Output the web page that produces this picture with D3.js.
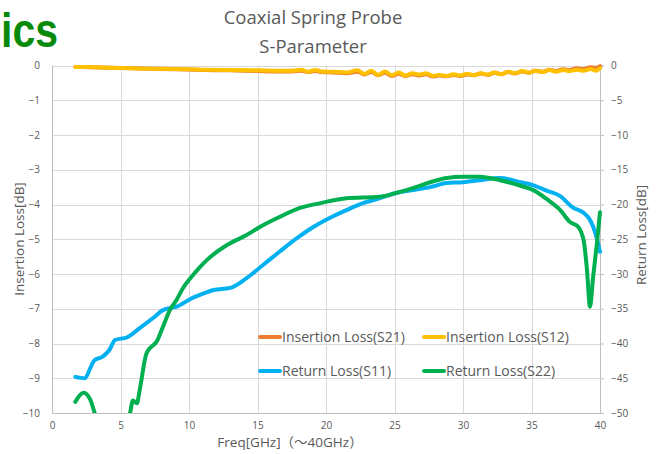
<!DOCTYPE html>
<html>
<head>
<meta charset="utf-8">
<script src="https://cdn.jsdelivr.net/npm/d3@7"></script>
<style>
  html, body { margin: 0; padding: 0; background: #fff; }
  svg { display: block; }
  text { font-family: "Open Sans", "Noto Sans", "Noto Sans CJK JP", sans-serif; fill: #595959; }
</style>
</head>
<body>
<svg id="chart" width="658" height="454"></svg>
<script>
// ---- Data ----
const xTicks = [0, 5, 10, 15, 20, 25, 30, 35, 40];
const leftTicks = [0, -1, -2, -3, -4, -5, -6, -7, -8, -9, -10];
const rightTicks = [0, -5, -10, -15, -20, -25, -30, -35, -40, -45, -50];

// Insertion loss (left axis, dB)
const ilFreq = [1.7, 3, 5, 7, 9, 11, 13, 15, 16.5, 17.5, 18.2, 18.7, 19.2, 19.7, 20.5, 21.5,
  22.3, 22.8, 23.3, 23.8, 24.3, 24.8, 25.3, 25.8, 26.3, 26.8,
  27.3, 27.8, 28.3, 28.8, 29.3, 29.8, 30.3, 30.8, 31.3, 31.8,
  32.3, 32.8, 33.3, 33.8, 34.3, 34.8, 35.3, 35.8, 36.3, 36.8,
  37.3, 37.8, 38.3, 38.8, 39.3, 39.7, 40];
const s21Values = [-0.04, -0.05, -0.07, -0.09, -0.11, -0.13, -0.14, -0.16, -0.17, -0.17, -0.15, -0.19, -0.16, -0.19, -0.20, -0.22,
  -0.18, -0.26, -0.19, -0.28, -0.21, -0.30, -0.24, -0.30, -0.25, -0.29,
  -0.25, -0.32, -0.29, -0.31, -0.27, -0.30, -0.26, -0.28, -0.23, -0.27,
  -0.21, -0.25, -0.19, -0.23, -0.17, -0.21, -0.15, -0.18, -0.12, -0.16,
  -0.11, -0.13, -0.08, -0.10, -0.05, -0.07, -0.02];
const s12Values = [-0.04, -0.05, -0.07, -0.09, -0.10, -0.12, -0.13, -0.14, -0.15, -0.15, -0.12, -0.18, -0.13, -0.17, -0.18, -0.20,
  -0.14, -0.24, -0.15, -0.27, -0.17, -0.28, -0.20, -0.29, -0.22, -0.26,
  -0.22, -0.30, -0.27, -0.30, -0.25, -0.29, -0.24, -0.28, -0.22, -0.26,
  -0.20, -0.25, -0.18, -0.22, -0.16, -0.20, -0.15, -0.19, -0.13, -0.18,
  -0.13, -0.16, -0.12, -0.15, -0.10, -0.15, -0.08];

// Return loss (right axis, dB)
const s11Freq = [1.7, 2.4, 2.8, 3.1, 3.7, 4.2, 4.6, 5.5, 6.4, 7.4, 8.1, 9.1, 10.3, 10.8, 11.8, 13.0,
  14.2, 15.4, 16.6, 17.9, 19.1, 20.3, 21.5, 22.7, 23.9, 25.2, 26.4, 27.6, 28.8, 30.0,
  31.2, 32.7, 34.2, 35.1, 36.1, 37.1, 38.0, 38.8, 39.2, 39.5, 39.8, 40];
const s11Values = [-44.8, -45.0, -43.5, -42.4, -41.9, -40.9, -39.5, -39.1, -37.8, -36.3, -35.2, -34.7, -33.4, -33.0, -32.3, -32.0,
  -30.6, -28.7, -26.8, -24.8, -23.2, -21.9, -20.8, -19.8, -19.1, -18.3, -17.9, -17.5, -16.9, -16.8,
  -16.5, -16.2, -16.8, -17.2, -18.0, -18.8, -20.4, -21.2, -22.0, -23.2, -25.1, -26.8];

const s22Freq = [1.7, 2.3, 2.8, 3.1, 3.5, 4.2, 5.0, 5.5, 5.7, 5.9, 6.2, 6.4, 6.9, 7.7, 8.1, 8.6,
  9.1, 9.6, 10.1, 10.8, 11.3, 12.8, 14.2, 15.2, 16.6, 18.1, 19.6, 21.5, 23.9, 25.2,
  26.4, 27.6, 28.8, 30.0, 31.2, 32.7, 34.2, 35.1, 36.1, 37.1, 37.8, 38.4, 38.8, 39.05, 39.27, 39.5, 39.8, 40];
const s22Values = [-48.4, -47.1, -48.1, -49.9, -52.0, -55.0, -54.0, -51.5, -50.0, -48.2, -48.6, -46.7, -41.4, -39.5, -37.6, -35.2,
  -33.7, -31.9, -30.6, -29.0, -28.0, -25.8, -24.4, -23.2, -21.8, -20.5, -19.8, -19.1, -18.9, -18.3,
  -17.6, -16.8, -16.2, -16.0, -16.0, -16.5, -17.3, -17.9, -19.2, -20.8, -22.5, -23.2, -25.1, -29.4, -34.7, -30.4, -25.1, -21.1];

const legendLabels = ["Insertion Loss(S21)", "Insertion Loss(S12)", "Return Loss(S11)", "Return Loss(S22)"];
const seriesColors = ["#ED7D31", "#FFC000", "#00B0F0", "#00B050"];

// ---- Layout ----
const svg = d3.select("#chart");
const plot = { left: 52, right: 600, top: 65.5, bottom: 413 };

const x = d3.scaleLinear().domain([0, 40]).range([plot.left, plot.right]);
const yL = d3.scaleLinear().domain([-10, 0]).range([plot.bottom, plot.top]);
const yR = d3.scaleLinear().domain([-50, 0]).range([plot.bottom, plot.top]);

// "ics" fragment
svg.append("text").attr("x", 1).attr("y", 47).attr("text-anchor", "start")
  .attr("textLength", 57).attr("lengthAdjust", "spacingAndGlyphs")
  .style("font-family", "'Liberation Sans', Arial, sans-serif")
  .style("font-weight", "bold").style("font-size", "49px").style("fill", "#0a8a0a")
  .text("ics");

// Title
svg.append("text").attr("x", 313).attr("y", 24).attr("text-anchor", "middle")
  .style("font-size", "18.5px").text("Coaxial Spring Probe");
svg.append("text").attr("x", 313).attr("y", 53).attr("text-anchor", "middle")
  .style("font-size", "18.5px").text("S-Parameter");

// Gridlines
const grid = svg.append("g");
grid.selectAll("line.h").data(leftTicks).join("line")
  .attr("x1", plot.left).attr("x2", plot.right)
  .attr("y1", d => Math.round(yL(d)) + 0.5).attr("y2", d => Math.round(yL(d)) + 0.5)
  .attr("stroke", "#d9d9d9").attr("stroke-width", 1);
grid.selectAll("line.v").data(xTicks).join("line")
  .attr("y1", plot.top).attr("y2", plot.bottom)
  .attr("x1", d => Math.round(x(d)) + 0.5).attr("x2", d => Math.round(x(d)) + 0.5)
  .attr("stroke", "#d9d9d9").attr("stroke-width", 1);

// Axes
const axisStyle = g => {
  g.select(".domain").attr("stroke", "#bfbfbf");
  g.selectAll(".tick line").attr("stroke", "#bfbfbf");
  g.selectAll(".tick text").style("fill", "#595959").style("font-size", "10px")
    .style("font-family", "'Open Sans', 'Noto Sans', sans-serif");
};
svg.append("g").attr("transform", `translate(0,${plot.bottom})`)
  .call(d3.axisBottom(x).tickValues(xTicks).tickSize(0).tickPadding(9))
  .call(axisStyle);
svg.append("g").attr("transform", `translate(${plot.left},0)`)
  .call(d3.axisLeft(yL).tickValues(leftTicks).tickSize(0).tickPadding(12))
  .call(axisStyle);
svg.append("g").attr("transform", `translate(${plot.right},0)`)
  .call(d3.axisRight(yR).tickValues(rightTicks).tickSize(4).tickPadding(7).tickFormat(d3.format("d")))
  .call(axisStyle);

// Axis titles
svg.append("text").attr("x", 290).attr("y", 447).attr("text-anchor", "middle")
  .style("font-size", "13.5px").text("Freq[GHz]（～40GHz）");
svg.append("text").attr("transform", "translate(24,239) rotate(-90)").attr("text-anchor", "middle")
  .style("font-size", "13.5px").text("Insertion Loss[dB]");
svg.append("text").attr("transform", "translate(646,235) rotate(-90)").attr("text-anchor", "middle")
  .style("font-size", "13.5px").text("Return Loss[dB]");

// Clip
svg.append("clipPath").attr("id", "clip").append("rect")
  .attr("x", plot.left).attr("y", plot.top - 3)
  .attr("width", plot.right - plot.left + 3).attr("height", plot.bottom - plot.top + 3);

const lines = svg.append("g").attr("clip-path", "url(#clip)");
const makeLine = (fx, ys, yScale, color) => {
  const pts = fx.map((f, i) => [f, ys[i]]);
  lines.append("path").datum(pts)
    .attr("fill", "none").attr("stroke", color).attr("stroke-width", 4)
    .attr("stroke-linejoin", "round").attr("stroke-linecap", "round")
    .attr("d", d3.line().x(d => x(d[0])).y(d => yScale(d[1])).curve(d3.curveMonotoneX));
};
makeLine(s11Freq, s11Values, yR, seriesColors[2]);
makeLine(s22Freq, s22Values, yR, seriesColors[3]);
makeLine(ilFreq, s21Values, yL, seriesColors[0]);
makeLine(ilFreq, s12Values, yL, seriesColors[1]);

// Legend
const legendPos = [[260, 337], [424, 337], [260, 371], [424, 371]];
legendLabels.forEach((label, i) => {
  const [lx, ly] = legendPos[i];
  svg.append("line").attr("x1", lx).attr("x2", lx + 20).attr("y1", ly).attr("y2", ly)
    .attr("stroke", seriesColors[i]).attr("stroke-width", 4).attr("stroke-linecap", "round");
  svg.append("text").attr("x", lx + 22).attr("y", ly + 5)
    .style("font-size", "14px").text(label);
});
</script>
</body>
</html>
